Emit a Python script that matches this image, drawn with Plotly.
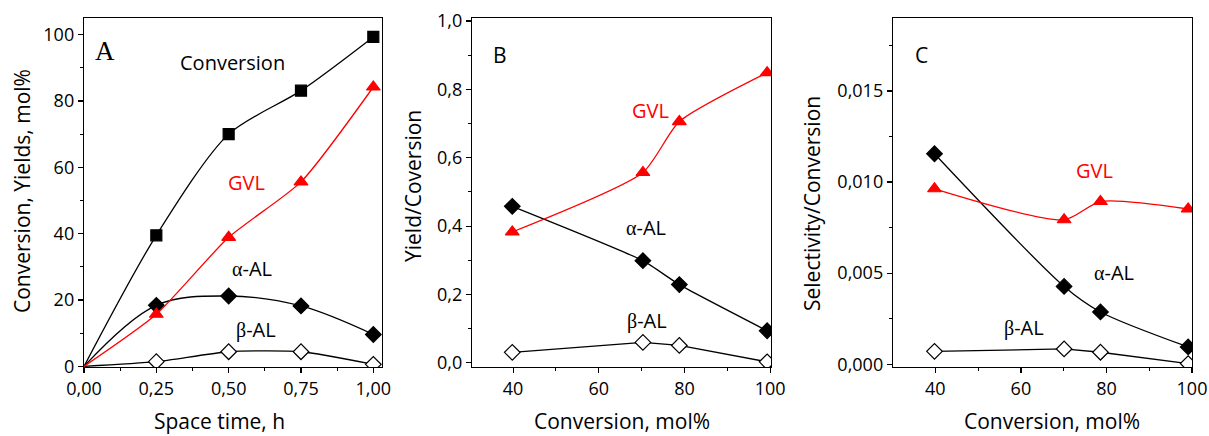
import plotly.graph_objects as go

W, H = 1209, 436

# ---------------- Data ----------------
# Panel A: space time (h) vs conversion / yields (mol%)
a_time = [0.0, 0.25, 0.50, 0.75, 1.00]
a_conversion = [0.0, 39.5, 70.0, 83.1, 99.3]
a_gvl = [0.0, 15.7, 38.9, 55.6, 84.2]
a_alpha = [0.0, 18.4, 21.2, 18.2, 9.6]
a_beta = [0.0, 1.4, 4.4, 4.4, 0.6]

# Panel B: conversion (mol%) vs yield/conversion
b_conv = [39.8, 70.3, 78.8, 99.3]
b_gvl = [0.383, 0.557, 0.706, 0.849]
b_alpha = [0.458, 0.299, 0.229, 0.094]
b_beta = [0.031, 0.060, 0.051, 0.003]

# Panel C: conversion (mol%) vs selectivity/conversion
c_conv = [39.8, 70.1, 78.6, 99.1]
c_gvl = [0.00963, 0.00793, 0.00893, 0.00852]
c_alpha = [0.01155, 0.00427, 0.00287, 0.00095]
c_beta = [0.00071, 0.00084, 0.00066, 0.00004]

FONT = "Open Sans"
SERIF = "Liberation Serif"
RED = "#ff0000"
BLACK = "#000000"

fig = go.Figure()


def px_x(x):
    return x / W


def px_y(y):
    return 1 - y / H


def add_series(x, y, xa, ya, symbol, color, fill, shape, sizes=None, lw=1.3, smoothing=1.0):
    fig.add_trace(go.Scatter(
        x=x, y=y, xaxis=xa, yaxis=ya, mode="lines+markers",
        line=dict(color=color, width=lw, shape=shape, smoothing=smoothing),
        marker=dict(symbol=symbol, size=sizes if sizes is not None else 11,
                    color=fill, opacity=1, line=dict(color=color, width=1.2)),
        showlegend=False, hoverinfo="skip"))


sz_a = [0, 11, 11, 11, 11]
sz_ad = [0, 12, 12, 12, 12]
# Panel A
add_series(a_time, a_conversion, "x", "y", "square", BLACK, BLACK, "spline", sz_a, smoothing=0.8)
add_series(a_time, a_alpha, "x", "y", "diamond", BLACK, BLACK, "spline", sz_ad)
add_series(a_time, a_beta, "x", "y", "diamond", BLACK, "white", "spline", sz_ad, smoothing=0.6)
add_series(a_time, a_gvl, "x", "y", "triangle-up", RED, RED, "spline", [0, 12, 12, 12, 12], smoothing=0.6)

# Panel B
add_series(b_conv, b_alpha, "x2", "y2", "diamond", BLACK, BLACK, "spline", 12, smoothing=0.5)
add_series(b_conv, b_beta, "x2", "y2", "diamond", BLACK, "white", "linear", 12)
add_series(b_conv, b_gvl, "x2", "y2", "triangle-up", RED, RED, "spline", 12, smoothing=0.6)

# Panel C
add_series(c_conv, c_alpha, "x3", "y3", "diamond", BLACK, BLACK, "spline", 12, smoothing=0.8)
add_series(c_conv, c_beta, "x3", "y3", "diamond", BLACK, "white", "linear", 12)
add_series(c_conv, c_gvl, "x3", "y3", "triangle-up", RED, RED, "spline", 12, smoothing=0.7)

ydom = [px_y(367), px_y(18)]
tickfont = dict(family=FONT, size=18, color=BLACK)


def axis(domain, rng, dtick, minor_dtick, fmt=None, anchor=None):
    d = dict(domain=domain, range=rng, dtick=dtick, tick0=0, automargin=False,
             showgrid=False, zeroline=False, showline=True, linecolor=BLACK,
             linewidth=1.2, mirror=True, ticks="outside", ticklen=5,
             tickwidth=1.2, tickcolor=BLACK, tickfont=tickfont,
             minor=dict(ticks="outside", ticklen=3, dtick=minor_dtick,
                        tick0=0, tickcolor=BLACK, tickwidth=1, showgrid=False),
             anchor=anchor)
    if fmt:
        d["tickformat"] = fmt
    return d


fig.update_layout(
    template="none",
    width=W, height=H, margin=dict(l=0, r=0, t=0, b=0, autoexpand=False),
    paper_bgcolor="white", plot_bgcolor="white", separators=", ",
    hovermode=False,
    xaxis=axis([px_x(84), px_x(382)], [0, 1.03], 0.25, 0.125, ".2f", "y"),
    yaxis=axis(ydom, [-0.2, 105], 20, 10, None, "x"),
    xaxis2=axis([px_x(472), px_x(771)], [30.4, 100.2], 20, 10, None, "y2"),
    yaxis2=axis(ydom, [-0.012, 1.009], 0.2, 0.1, ".1f", "x2"),
    xaxis3=axis([px_x(893), px_x(1192)], [30.1, 100.0], 20, 10, None, "y3"),
    yaxis3=axis(ydom, [-0.00015, 0.019], 0.005, 0.0025, ".3f", "x3"),
)


def ann(text, x, y, size=20, color=BLACK, family=FONT, angle=0):
    fig.add_annotation(text=text, x=px_x(x), y=px_y(y), xref="paper", yref="paper",
                       showarrow=False, textangle=angle, xanchor="center", yanchor="middle",
                       font=dict(family=family, size=size, color=color))


def greek(ch):
    return '<span style="font-family:%s">%s</span>' % (SERIF, ch)


# Axis titles
ann("Conversion, Yields, mol%", 22, 191, size=21, angle=-90)
ann("Space time, h", 219, 421, size=21)
ann("Yield/Coversion", 413, 186, size=21, angle=-90)
ann("Conversion, mol%", 622, 421, size=21)
ann("Selectivity/Conversion", 812, 204, size=21, angle=-90)
ann("Conversion, mol%", 1052, 421, size=21)

# Panel labels
ann("A", 105, 51, size=27, family=SERIF)
ann("B", 500, 55, size=21)
ann("C", 921, 55, size=21)

# Series labels, panel A
ann("Conversion", 232, 63)
ann("GVL", 246, 182, color=RED)
ann(greek("α") + "-AL", 252, 268)
ann(greek("β") + "-AL", 256, 329)

# Panel B
ann("GVL", 650, 111, color=RED)
ann(greek("α") + "-AL", 646, 227)
ann(greek("β") + "-AL", 647, 320)

# Panel C
ann("GVL", 1094, 170, color=RED)
ann(greek("α") + "-AL", 1114, 272)
ann(greek("β") + "-AL", 1024, 327)

fig.write_html(
    "out.html",
    config={"displayModeBar": False, "staticPlot": True},
    post_script="document.body.style.margin='0';document.body.style.overflow='hidden';",
)
